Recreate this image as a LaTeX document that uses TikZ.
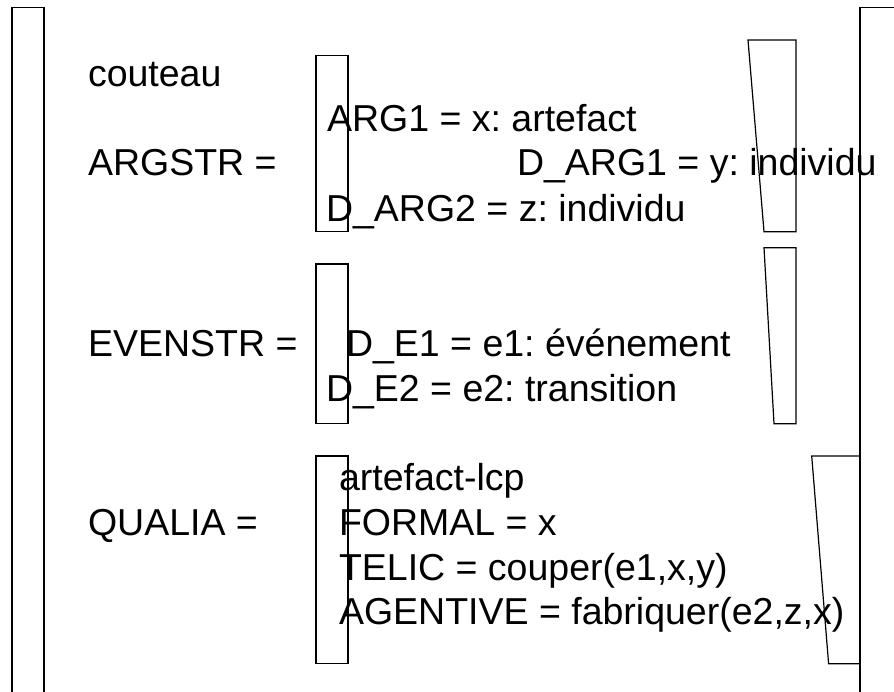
\documentclass[tikz,border=0pt]{standalone}
\usepackage{fontspec}
\setmainfont{Liberation Sans}
\frenchspacing
\begin{document}
\begin{tikzpicture}[x=1pt,y=-1pt,
  txt/.style={anchor=base west, inner sep=0pt, outer sep=0pt, font=\fontsize{37.5}{45}\selectfont},
  brk/.style={draw=black, line width=1.2pt, line join=miter}]
\useasboundingbox (0,0) rectangle (894,692);
\fill[white] (0,0) rectangle (894,692);
\begin{scope}
\clip (0,0) rectangle (894,692);
% outer brackets
\draw[brk] (12,700) -- (12,7.3) -- (44,7.3) -- (44,700);
\draw[brk] (900,7.3) -- (860,7.3) -- (860,700);
% ARGSTR brackets
\draw[brk] (316,55.7) rectangle (348,231.7);
\draw[brk] (748,40) -- (796,40) -- (796,231.7) -- (764,231.7) -- cycle;
% EVENSTR brackets
\draw[brk] (316,264) rectangle (348,423.5);
\draw[brk] (764,247.7) -- (796,247.7) -- (796,423.7) -- (774,423.7) -- cycle;
% QUALIA brackets
\draw[brk] (316,456) rectangle (348,663.7);
\draw[brk] (811.7,456) -- (860,456) -- (860,663.7) -- (828.6,663.7) -- cycle;
\end{scope}
% texts
\node[txt] (couteau) at (88,87) {couteau};
\node[txt] (argstr) at (88,176) {ARGSTR =};
\node[txt] (arg1) at (327,131.7) {ARG1 = x: artefact};
\node[txt] (darg1) at (517,176) {D\_ARG1 = y: individu};
\node[txt] (darg2) at (326,221.7) {D\_ARG2 = z: individu};
\node[txt] (evenstr) at (88,356) {EVENSTR =};
\node[txt] (de1) at (346,356) {D\_E1 = e1: événement};
\node[txt] (de2) at (326,401.7) {D\_E2 = e2: transition};
\node[txt] (qualia) at (88,535) {QUALIA =};
\node[txt] (lcp) at (339,490) {artefact-lcp};
\node[txt] (formal) at (339,535) {FORMAL = x};
\node[txt] (telic) at (339,580) {TELIC = couper(e1,x,y)};
\node[txt] (agentive) at (339,624) {AGENTIVE = fabriquer(e2,z,x)};
\end{tikzpicture}
\end{document}
